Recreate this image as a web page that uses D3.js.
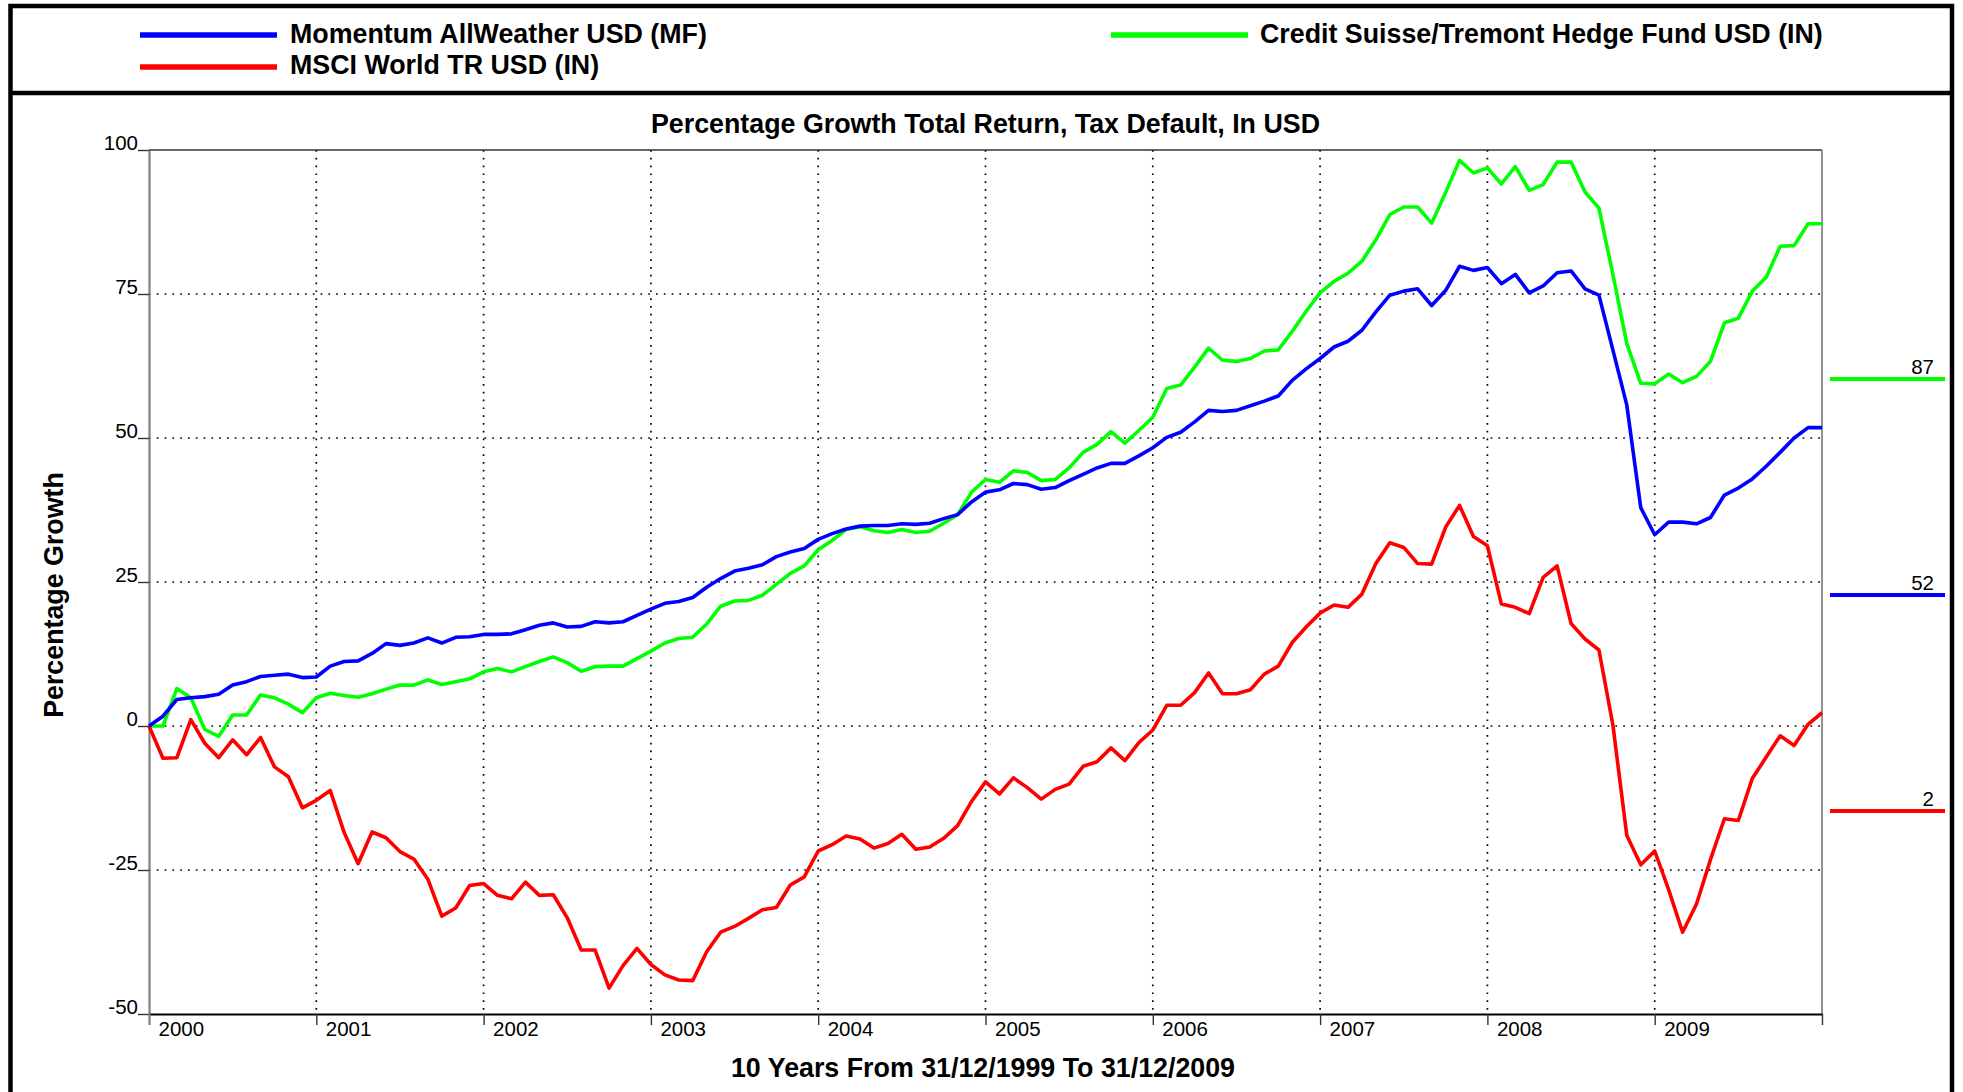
<!DOCTYPE html>
<html><head><meta charset="utf-8">
<script src="https://cdn.jsdelivr.net/npm/d3@7"></script>
<style>
html,body{margin:0;padding:0;background:#fff;}
svg{display:block;}
text{font-family:"Liberation Sans",Arial,Helvetica,sans-serif;fill:#000;}
</style></head><body>
<svg id="chart" width="1963" height="1092"></svg>
<script>
// ---------- data ----------
const years = ["2000","2001","2002","2003","2004","2005","2006","2007","2008","2009"];
const yTickValues = [-50,-25,0,25,50,75,100];
const seriesNames = ["Momentum AllWeather USD (MF)","MSCI World TR USD (IN)","Credit Suisse/Tremont Hedge Fund USD (IN)"];
const seriesColors = ["#0000ff","#ff0000","#00ff00"];
const endValues = ["87","52","2"];
const endColors = ["#00ff00","#0000ff","#ff0000"];

// monthly % growth, 31/12/1999 .. 31/12/2009 (121 points)
const momentum = [0,1.7,4.6,4.9,5.1,5.5,7.1,7.7,8.6,8.8,9.0,8.4,8.5,10.4,11.2,11.3,12.6,14.3,14.0,14.4,15.3,14.4,15.4,15.5,15.9,
15.9,16.0,16.7,17.5,17.9,17.2,17.3,18.1,17.9,18.1,19.2,20.3,21.3,21.6,22.3,24.1,25.6,26.9,27.4,28.0,29.4,30.2,30.8,
32.4,
33.4,34.2,34.7,34.8,34.8,35.1,35.0,35.2,36.0,36.7,38.9,40.6,41.0,42.1,41.9,41.1,41.4,42.6,43.7,44.8,45.6,45.6,46.9,
48.3,
50.1,51.0,52.8,54.8,54.6,54.8,55.6,56.4,57.3,60.0,62.0,63.8,65.8,66.8,68.7,71.9,74.8,75.5,75.9,73.0,75.6,79.8,79.1,
79.6,
76.8,78.4,75.2,76.4,78.7,79.0,75.9,74.8,65.3,55.7,37.9,33.2,35.4,35.4,35.1,36.2,40.1,41.3,42.9,45.1,47.5,50.0,51.8,51.8];

const creditSuisse = [0,0,6.5,4.9,-0.6,-1.8,1.9,1.9,5.4,4.9,3.8,2.3,4.9,5.7,5.3,5.0,5.6,6.4,7.1,7.1,8.0,7.2,7.7,8.2,9.4,
10.0,9.4,10.3,11.2,12.0,11.0,9.5,10.3,10.4,10.4,11.7,13.0,14.4,15.2,15.4,17.7,20.8,21.7,21.8,22.7,24.6,26.5,27.8,
30.6,
32.2,34.1,34.6,33.9,33.6,34.1,33.6,33.8,35.2,36.7,40.6,42.8,42.3,44.3,44.0,42.6,42.8,44.8,47.5,48.9,51.1,49.1,51.3,
53.6,
58.6,59.2,62.3,65.6,63.5,63.3,63.8,65.1,65.3,68.5,72.0,75.2,77.2,78.6,80.7,84.4,88.8,90.1,90.1,87.3,92.6,98.2,96.0,
96.9,
94.1,97.1,93.0,94.0,97.9,97.9,92.7,89.9,78.4,66.4,59.5,59.4,61.1,59.6,60.7,63.3,70.0,70.8,75.5,77.9,83.3,83.4,87.2,87.2];

const msciWorld = [0,-5.6,-5.5,1.1,-3.0,-5.5,-2.4,-5.0,-2.0,-7.1,-8.8,-14.2,-12.9,-11.2,-18.5,-23.9,-18.4,-19.4,-21.8,-23.1,-26.6,-33.0,-31.6,-27.7,-27.35,
-29.4,-30.0,-27.1,-29.4,-29.3,-33.3,-38.9,-38.9,-45.5,-41.6,-38.6,-41.4,-43.2,-44.1,-44.2,-39.2,-35.8,-34.8,-33.4,-31.9,-31.5,-27.6,-26.2,
-21.7,
-20.6,-19.1,-19.6,-21.2,-20.4,-18.8,-21.4,-21.0,-19.5,-17.3,-13.1,-9.7,-11.8,-9.0,-10.7,-12.7,-11.0,-10.1,-7.0,-6.2,-3.8,-6.0,-2.9,
-0.7,
3.6,3.6,5.8,9.2,5.6,5.6,6.3,9.0,10.4,14.5,17.2,19.6,21.0,20.6,22.9,28.2,31.8,31.0,28.2,28.1,34.5,38.3,32.9,
31.3,
21.2,20.6,19.5,25.8,27.8,17.8,15.1,13.2,0.2,-19.0,-24.1,-21.7,-28.4,-35.8,-30.9,-23.2,-16.1,-16.4,-9.1,-5.4,-1.7,-3.4,0.3,2.3];

// ---------- layout ----------
const svg = d3.select("#chart");
const W = 1963, H = 1092;
const plot = {left:149, right:1822, top:150, bottom:1014};
const nMonths = momentum.length - 1;
const boldSize = 26.8, tickSize = 20.5;

svg.append("rect").attr("width",W).attr("height",H).attr("fill","#fff");

const x = d3.scaleLinear().domain([0,nMonths]).range([plot.left,plot.right]);
const y = d3.scaleLinear().domain([-50,100]).range([plot.bottom,plot.top]);

// outer frame + legend separator
svg.append("rect").attr("x",10.5).attr("y",6).attr("width",1941.5).attr("height",1100)
  .attr("fill","none").attr("stroke","#000").attr("stroke-width",4.5);
svg.append("line").attr("x1",10.5).attr("x2",1952).attr("y1",93).attr("y2",93)
  .attr("stroke","#000").attr("stroke-width",4.5);

// legend
const legendPos = [
  {lx1:140,lx2:277,ly:35,tx:290,ty:43},
  {lx1:140,lx2:277,ly:67,tx:290,ty:74},
  {lx1:1111,lx2:1248,ly:35,tx:1260,ty:43}
];
const lg = svg.append("g");
seriesNames.forEach((name,i)=>{
  const p = legendPos[i];
  lg.append("line").attr("x1",p.lx1).attr("x2",p.lx2).attr("y1",p.ly).attr("y2",p.ly)
    .attr("stroke",seriesColors[i]).attr("stroke-width",5.5);
  lg.append("text").attr("x",p.tx).attr("y",p.ty).attr("font-size",boldSize).attr("font-weight","bold").text(name);
});

// title
svg.append("text").attr("x",(plot.left+plot.right)/2).attr("y",133).attr("text-anchor","middle")
  .attr("font-size",boldSize).attr("font-weight","bold").text("Percentage Growth Total Return, Tax Default, In USD");

// grid
const grid = svg.append("g").attr("stroke","#000").attr("stroke-width",1.7).attr("stroke-dasharray","1.7,6.1");
yTickValues.filter(v=>v>-50 && v<100).forEach(v=>{
  grid.append("line").attr("x1",x(0)).attr("x2",x(nMonths)).attr("y1",y(v)).attr("y2",y(v));
});
d3.range(12,nMonths,12).forEach(m=>{
  grid.append("line").attr("x1",x(m)).attr("x2",x(m)).attr("y1",y(100)).attr("y2",y(-50));
});

// plot border top/right
svg.append("line").attr("x1",x(0)).attr("x2",x(nMonths)).attr("y1",y(100)).attr("y2",y(100))
  .attr("stroke","#333").attr("stroke-width",1.6);
svg.append("line").attr("x1",x(nMonths)).attr("x2",x(nMonths)).attr("y1",y(100)).attr("y2",y(-50))
  .attr("stroke","#777").attr("stroke-width",1.6);

// y axis
const yAxis = svg.append("g").attr("transform",`translate(${plot.left},0)`)
  .call(d3.axisLeft(y).tickValues(yTickValues).tickSize(11).tickSizeOuter(0).tickFormat(d=>String(d)));
yAxis.select(".domain").attr("stroke","#808080").attr("stroke-width",2.2);
yAxis.selectAll(".tick line").attr("stroke","#333").attr("stroke-width",1.4);
yAxis.selectAll(".tick text").attr("font-size",tickSize).attr("font-family",null).attr("x",-11).attr("dy","0").attr("y",-1);

// x axis
const xAxis = svg.append("g").attr("transform",`translate(0,${plot.bottom})`)
  .call(d3.axisBottom(x).tickValues(d3.range(0,nMonths+1,12)).tickSize(11).tickSizeOuter(0)
    .tickFormat(d=>years[d/12] || ""));
xAxis.select(".domain").attr("stroke","#000").attr("stroke-width",2);
xAxis.selectAll(".tick line").attr("stroke","#333").attr("stroke-width",1.4);
xAxis.selectAll(".tick").filter(d=>d===0).select("line").attr("stroke","#808080").attr("stroke-width",2.2);
xAxis.selectAll(".tick text").attr("font-size",tickSize).attr("font-family",null)
  .attr("text-anchor","start").attr("x",9).attr("y",22).attr("dy","0");

// y axis title
svg.append("text").attr("transform","translate(63,595) rotate(-90)").attr("text-anchor","middle")
  .attr("font-size",boldSize).attr("font-weight","bold").text("Percentage Growth");
// x axis title
svg.append("text").attr("x",983).attr("y",1077).attr("text-anchor","middle")
  .attr("font-size",boldSize).attr("font-weight","bold").text("10 Years From 31/12/1999 To 31/12/2009");

// series
const line = d3.line().x((d,i)=>x(i)).y(d=>y(d));
const seriesData = [creditSuisse, msciWorld, momentum];
const seriesDrawColors = [seriesColors[2], seriesColors[1], seriesColors[0]];
svg.append("g").selectAll("path").data(seriesData).join("path")
  .attr("d",line).attr("fill","none")
  .attr("stroke",(d,i)=>seriesDrawColors[i]).attr("stroke-width",3.6)
  .attr("stroke-linejoin","round");

// end value panel
const ep = svg.append("g");
endValues.forEach((v,i)=>{
  const ly = 379 + i*216;
  ep.append("line").attr("x1",1830).attr("x2",1945).attr("y1",ly).attr("y2",ly)
    .attr("stroke",endColors[i]).attr("stroke-width",4);
  ep.append("text").attr("x",1934).attr("y",ly-5).attr("text-anchor","end").attr("font-size",tickSize).text(v);
});
</script>
</body></html>
